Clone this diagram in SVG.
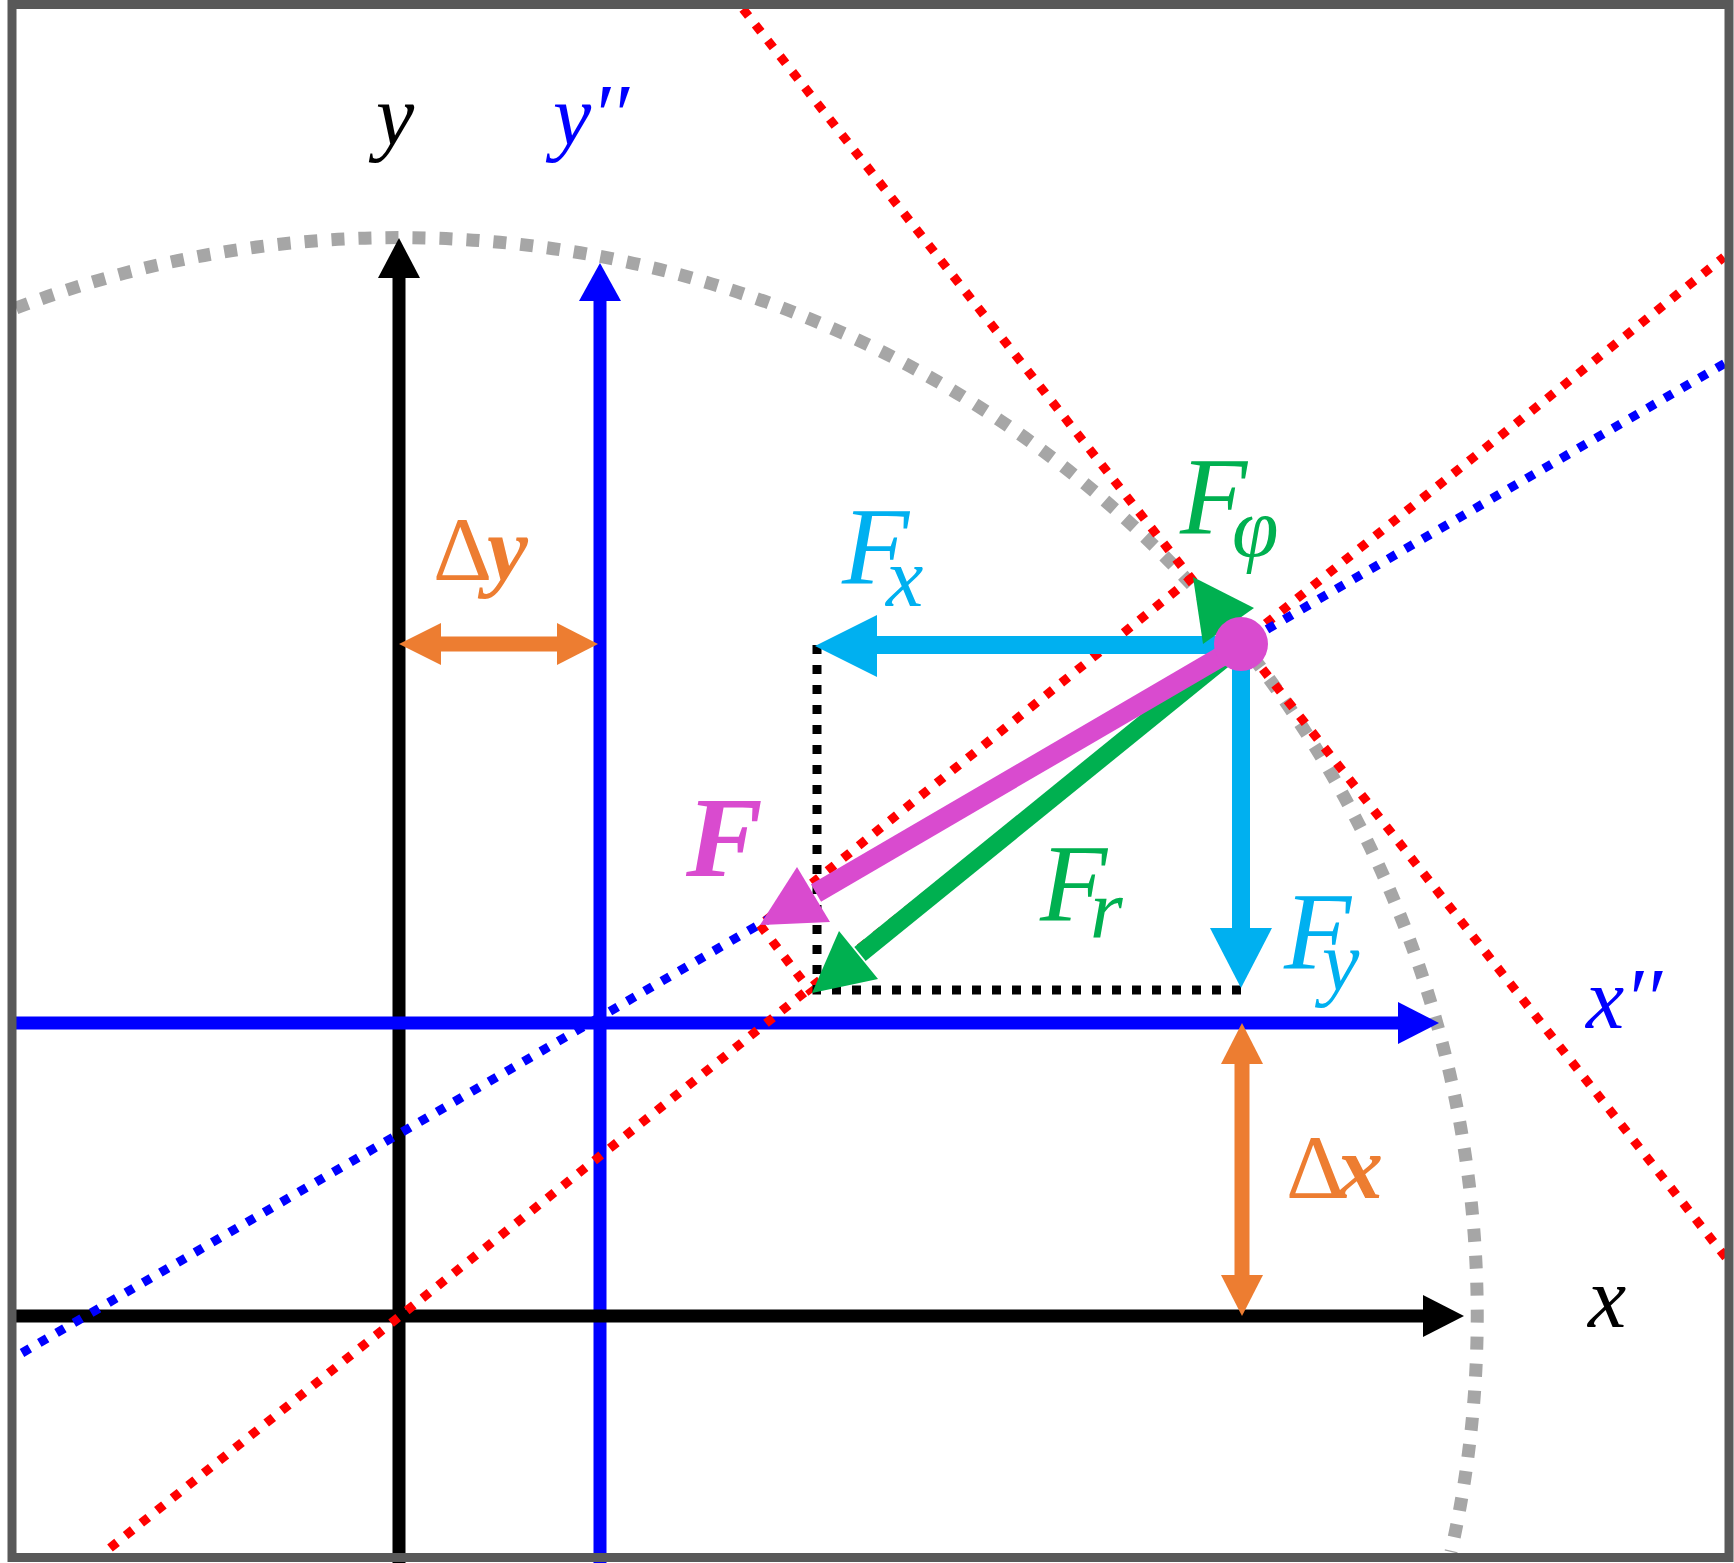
<svg xmlns="http://www.w3.org/2000/svg" width="1734" height="1563" viewBox="0 0 1734 1563">
<style>
.lbl{font-family:"Liberation Serif","DejaVu Serif",serif;font-style:italic}
.sub{font-size:84px}
.axis{stroke-width:13;fill:none}
.force{stroke-width:18;fill:none}
.dotR{stroke:#FF0000;stroke-width:9;stroke-dasharray:9 11;fill:none}
.dotB{stroke:#0000FF;stroke-width:9;stroke-dasharray:9 11;fill:none}
.dotK{stroke:#000000;stroke-width:9;stroke-dasharray:9 11;fill:none}
.dim{stroke:#ED7D31;stroke-width:15;fill:none}
</style>
<rect x="0" y="0" width="1734" height="1563" fill="#FFFFFF"/>
<g id="circle-path">
<path d="M 16 308 A 1078 1078 0 0 1 1451 1552" fill="none" stroke="#A6A6A6" stroke-width="13" stroke-dasharray="13 14"/>
</g>
<g id="axes">
<g id="axis-y"><line x1="399" y1="1563" x2="399" y2="274" stroke="#000000" class="axis"/><polygon points="399,238 378,278 420,278" fill="#000000"/></g>
<g id="axis-y2"><line x1="600" y1="1563" x2="600" y2="298" stroke="#0000FF" class="axis"/><polygon points="600,263 579,301 621,301" fill="#0000FF"/></g>
<g id="axis-x2"><line x1="16" y1="1023" x2="1402" y2="1023" stroke="#0000FF" class="axis"/><polygon points="1439,1023 1398,1002 1398,1044" fill="#0000FF"/></g>
<g id="axis-x"><line x1="16" y1="1316" x2="1427" y2="1316" stroke="#000000" class="axis"/><polygon points="1464,1316 1423,1295 1423,1337" fill="#000000"/></g>
</g>
<g id="connectors">
<line x1="110" y1="1548" x2="1724" y2="257" class="dotR"/>
<line x1="743" y1="9" x2="1727" y2="1259" class="dotR"/>
<line x1="1193" y1="577" x2="760" y2="925" class="dotR"/>
<line x1="760" y1="925" x2="812" y2="993" class="dotR"/>
<line x1="22" y1="1353" x2="1727" y2="362" class="dotB"/>
<polyline points="817,645 817,990 1241,990" class="dotK"/>
</g>
<g id="force-Fx"><line x1="1241" y1="645" x2="874" y2="645" stroke="#00B0F0" class="force"/><polygon points="815,646 877,615 877,677" fill="#00B0F0"/></g>
<g id="force-Fy"><line x1="1241" y1="645" x2="1241" y2="931" stroke="#00B0F0" class="force"/><polygon points="1241,988 1210,928 1272,928" fill="#00B0F0"/></g>
<g id="force-Fr"><line x1="1241" y1="645" x2="860" y2="954" stroke="#00B050" class="force"/><polygon points="812,993 839,931 878,979" fill="#00B050"/></g>
<g id="force-F"><line x1="1241" y1="645" x2="816" y2="893" stroke="#D94BCF" stroke-width="20"/><polygon points="760,925 797,867 830,922" fill="#D94BCF"/></g>
<g id="force-Fphi"><polygon points="1193,577 1203,644 1254,608" fill="#00B050"/></g>
<g id="point"><circle cx="1241" cy="644" r="27" fill="#D94BCF"/></g>
<g id="delta-y"><line x1="438" y1="644" x2="560" y2="644" class="dim"/><polygon points="399,644 441,623 441,665" fill="#ED7D31"/><polygon points="598,644 557,623 557,665" fill="#ED7D31"/></g>
<g id="delta-x"><line x1="1242" y1="1060" x2="1242" y2="1279" class="dim"/><polygon points="1242,1023 1221,1064 1263,1064" fill="#ED7D31"/><polygon points="1242,1316 1221,1275 1263,1275" fill="#ED7D31"/></g>
<g id="labels">
<text class="lbl" x="376" y="144" font-size="86" fill="#000000">y</text>
<text class="lbl" x="553" y="144" font-size="86" fill="#0000FF">y′′</text>
<text class="lbl" x="1586" y="1028" font-size="86" fill="#0000FF">x′′</text>
<text class="lbl" x="1588" y="1327" font-size="86" fill="#000000">x</text>
<text class="lbl" x="1180" y="533" font-size="110" fill="#00B050">F<tspan class="sub" x="1232" y="556">φ</tspan></text>
<text class="lbl" x="842" y="583" font-size="110" fill="#00B0F0">F<tspan class="sub" x="886" y="606">x</tspan></text>
<text class="lbl" x="1040" y="920" font-size="110" fill="#00B050">F<tspan class="sub" x="1090" y="938">r</tspan></text>
<text class="lbl" x="1284" y="968" font-size="110" fill="#00B0F0">F<tspan class="sub" x="1322" y="990">y</tspan></text>
<text class="lbl" x="686" y="876" font-size="115" font-weight="bold" fill="#D94BCF">F</text>
<text x="433" y="580" font-size="92" fill="#ED7D31" font-family="Liberation Serif, DejaVu Serif, serif">Δ<tspan font-style="italic" font-weight="bold" x="487">y</tspan></text>
<text x="1286" y="1198" font-size="92" fill="#ED7D31" font-family="Liberation Serif, DejaVu Serif, serif">Δ<tspan font-style="italic" font-weight="bold" x="1337">x</tspan></text>
</g>
<g id="frame"><rect x="12" y="4.5" width="1717" height="1553" fill="none" stroke="#595959" stroke-width="9"/></g>
</svg>
